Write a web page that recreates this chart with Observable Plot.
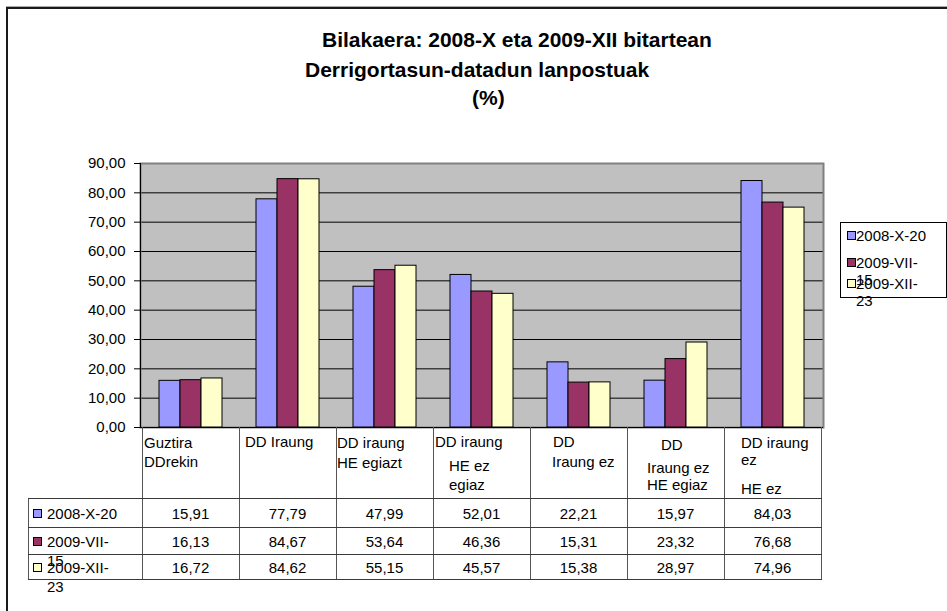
<!DOCTYPE html>
<html><head><meta charset="utf-8">
<script src="https://cdn.jsdelivr.net/npm/d3@7"></script>
<script src="https://cdn.jsdelivr.net/npm/@observablehq/plot@0.6"></script>
<style>
html,body{margin:0;padding:0;background:#fff;}
body{width:947px;height:611px;overflow:hidden;position:relative;font-family:"Liberation Sans",Arial,sans-serif;color:#000;}
#outer{position:absolute;left:6px;top:7px;width:2000px;height:2000px;border-left:2px solid #1a1a1a;border-top:2px solid #1a1a1a;box-shadow:0 -1px 0 #aaa;}
#chart{position:absolute;left:0;top:0;width:947px;height:611px;}
#chart svg{position:absolute;left:0;top:0;overflow:visible;}
.title{position:absolute;font-weight:bold;font-size:21px;line-height:21px;white-space:nowrap;}
.txt{position:absolute;font-size:15px;line-height:19px;white-space:pre;}
.hl{position:absolute;height:1px;background:#3a3a3a;}
.vl{position:absolute;width:1px;background:#555;}
.sw{position:absolute;width:7px;height:7px;border:1px solid #000;}
#legend{position:absolute;left:840px;top:222px;width:105px;height:74px;border:1px solid #000;background:transparent;}
</style></head><body>
<div id="outer"></div>
<div id="chart"></div>
<script>
// ---- data ----
const titleLines = ["Bilakaera: 2008-X eta 2009-XII bitartean", "Derrigortasun-datadun lanpostuak", "(%)"];
const categories = [
  "Guztira\nDDrekin",
  "DD Iraung",
  "DD iraung\nHE egiazt",
  "DD iraung\nHE ez\negiaz",
  "DD\nIraung ez",
  "DD\nIraung ez\nHE egiaz",
  "DD iraung\nez\nHE ez"
];
const seriesNames = ["2008-X-20", "2009-VII-15", "2009-XII-23"];
const values2008X20   = [15.91, 77.79, 47.99, 52.01, 22.21, 15.97, 84.03];
const values2009VII15 = [16.13, 84.67, 53.64, 46.36, 15.31, 23.32, 76.68];
const values2009XII23 = [16.72, 84.62, 55.15, 45.57, 15.38, 28.97, 74.96];
const yTicks = [0, 10, 20, 30, 40, 50, 60, 70, 80, 90];
const seriesColors = ["#9999FF", "#993366", "#FFFFCC"];

// ---- layout / style (not data) ----
const W = 947, H = 430;
const M = {top: 163, right: 124, bottom: 3, left: 140};
const font = "'Liberation Sans', Arial, sans-serif";
const titleLayout = [{left: 322, top: 29}, {left: 305, top: 59}, {left: 472, top: 87}];
const headerLayout = [
  {pads: [1, 1], centers: [15, 34]},
  {pads: [5], centers: [14]},
  {pads: [0, 0], centers: [15, 35]},
  {pads: [1, 15, 15], centers: [14, 38, 57]},
  {pads: [22, 21], centers: [14, 34]},
  {pads: [33, 19, 19], centers: [17, 40, 57]},
  {pads: [16, 16, 16], centers: [15, 32, 61]}
];
const headerBottom = 498, rowLines = [527, 554, 579], tableLeft = 28;
const legendCenters = [235, 262, 283];

const seriesValues = [values2008X20, values2009VII15, values2009XII23];
const rows = [];
categories.forEach((c, i) => seriesNames.forEach((s, j) => rows.push({category: c, series: s, value: seriesValues[j][i]})));
const fmt = d => d.toFixed(2).replace(".", ",");
const wrapLabel = s => s.length > 9 ? s.replace(/-(\d+)$/, "-\n$1") : s;

const chart = document.getElementById("chart");

// background, grid and y axis
const plotA = Plot.plot({
  width: W, height: H,
  marginTop: M.top, marginRight: M.right, marginBottom: M.bottom, marginLeft: M.left,
  style: {background: "transparent", fontFamily: font, fontSize: "15px", color: "black"},
  y: {domain: [0, 90]},
  marks: [
    Plot.frame({fill: "#C0C0C0"}),
    Plot.ruleY(yTicks.filter(t => t > 0 && t < 90), {stroke: "black", strokeWidth: 1}),
    Plot.frame({stroke: "#808080", strokeWidth: 2}),
    Plot.ruleY([0], {stroke: "black", strokeWidth: 1}),
    Plot.frame({anchor: "left", stroke: "black", strokeWidth: 1}),
    Plot.axisY({ticks: yTicks, tickFormat: fmt, tickSize: 6, tickPadding: 9, label: null, stroke: "black"})
  ]
});
chart.appendChild(plotA);

// grouped bars
const plotB = Plot.plot({
  width: W, height: H,
  marginTop: M.top, marginRight: M.right, marginBottom: M.bottom, marginLeft: M.left,
  style: {background: "transparent", fontFamily: font},
  fx: {domain: categories, paddingInner: 0.34, paddingOuter: 0.17, axis: null, label: null},
  x: {domain: seriesNames, padding: 0, axis: null},
  y: {domain: [0, 90], axis: null},
  color: {domain: seriesNames, range: seriesColors},
  marks: [
    Plot.barY(rows, {fx: "category", x: "series", y: "value", fill: "series", stroke: "black", strokeWidth: 1})
  ]
});
chart.appendChild(plotB);

// title
titleLines.forEach((t, i) => {
  const d = document.createElement("div");
  d.className = "title";
  d.style.left = titleLayout[i].left + "px";
  d.style.top = titleLayout[i].top + "px";
  d.textContent = t;
  chart.appendChild(d);
});

// data table aligned to the fx scale
const fxs = plotB.scale("fx");
let step = fxs.step, bw = fxs.bandwidth;
const plotW = W - M.left - M.right;
if (!(step > 0)) { step = plotW / categories.length; bw = step * 0.66; }
const cellLeft = c => {
  const v = fxs.apply ? fxs.apply(c) : NaN;
  return isFinite(v) ? v - (step - bw) / 2 : M.left + categories.indexOf(c) * step;
};
const bounds = categories.map(cellLeft);
bounds.push(bounds[bounds.length - 1] + step);
const ys = plotA.scale("y");
const tableTop = ys && ys.apply ? ys.apply(0) : H - M.bottom;
const tableRight = bounds[bounds.length - 1];

function add(cls, styles, text) {
  const d = document.createElement("div");
  d.className = cls;
  Object.assign(d.style, styles);
  if (text != null) d.textContent = text;
  chart.appendChild(d);
  return d;
}
// vertical lines
bounds.forEach(x => add("vl", {left: Math.round(x) + "px", top: tableTop + "px", height: (rowLines[2] - tableTop + 1) + "px"}));
add("vl", {left: tableLeft + "px", top: headerBottom + "px", height: (rowLines[2] - headerBottom + 1) + "px"});
// horizontal lines
[headerBottom, ...rowLines].forEach(y => add("hl", {left: tableLeft + "px", top: y + "px", width: (Math.round(tableRight) - tableLeft + 1) + "px"}));

// header labels
categories.forEach((c, i) => {
  const lines = c.split("\n");
  const lay = headerLayout[i];
  lines.forEach((ln, k) => {
    add("txt", {left: (Math.round(bounds[i]) + lay.pads[k] + 1) + "px", top: (tableTop + lay.centers[k] - 9.5) + "px"}, ln);
  });
});

// value rows
const rowTops = [headerBottom, rowLines[0], rowLines[1]];
const rowBottoms = rowLines;
seriesNames.forEach((s, j) => {
  const cy = (rowTops[j] + rowBottoms[j]) / 2 + 1;
  add("sw", {left: "33px", top: (cy - 4.5) + "px", background: seriesColors[j]});
  add("txt", {left: "47px", top: (cy - 9.5) + "px"}, wrapLabel(s));
  seriesValues[j].forEach((v, i) => {
    add("txt", {left: Math.round(bounds[i]) + "px", width: step + "px", textAlign: "center", top: (cy - 9.5) + "px"}, fmt(v));
  });
});

// legend
add("", {position: "absolute", left: "840px", top: "222px", width: "105px", height: "74px", border: "1px solid #000"});
seriesNames.forEach((s, j) => {
  const cy = legendCenters[j];
  add("sw", {left: "847px", top: (cy - 4) + "px", background: seriesColors[j]});
  add("txt", {left: "856px", top: (cy - 8.5) + "px", lineHeight: "17px"}, wrapLabel(s));
});
</script>
</body></html>
